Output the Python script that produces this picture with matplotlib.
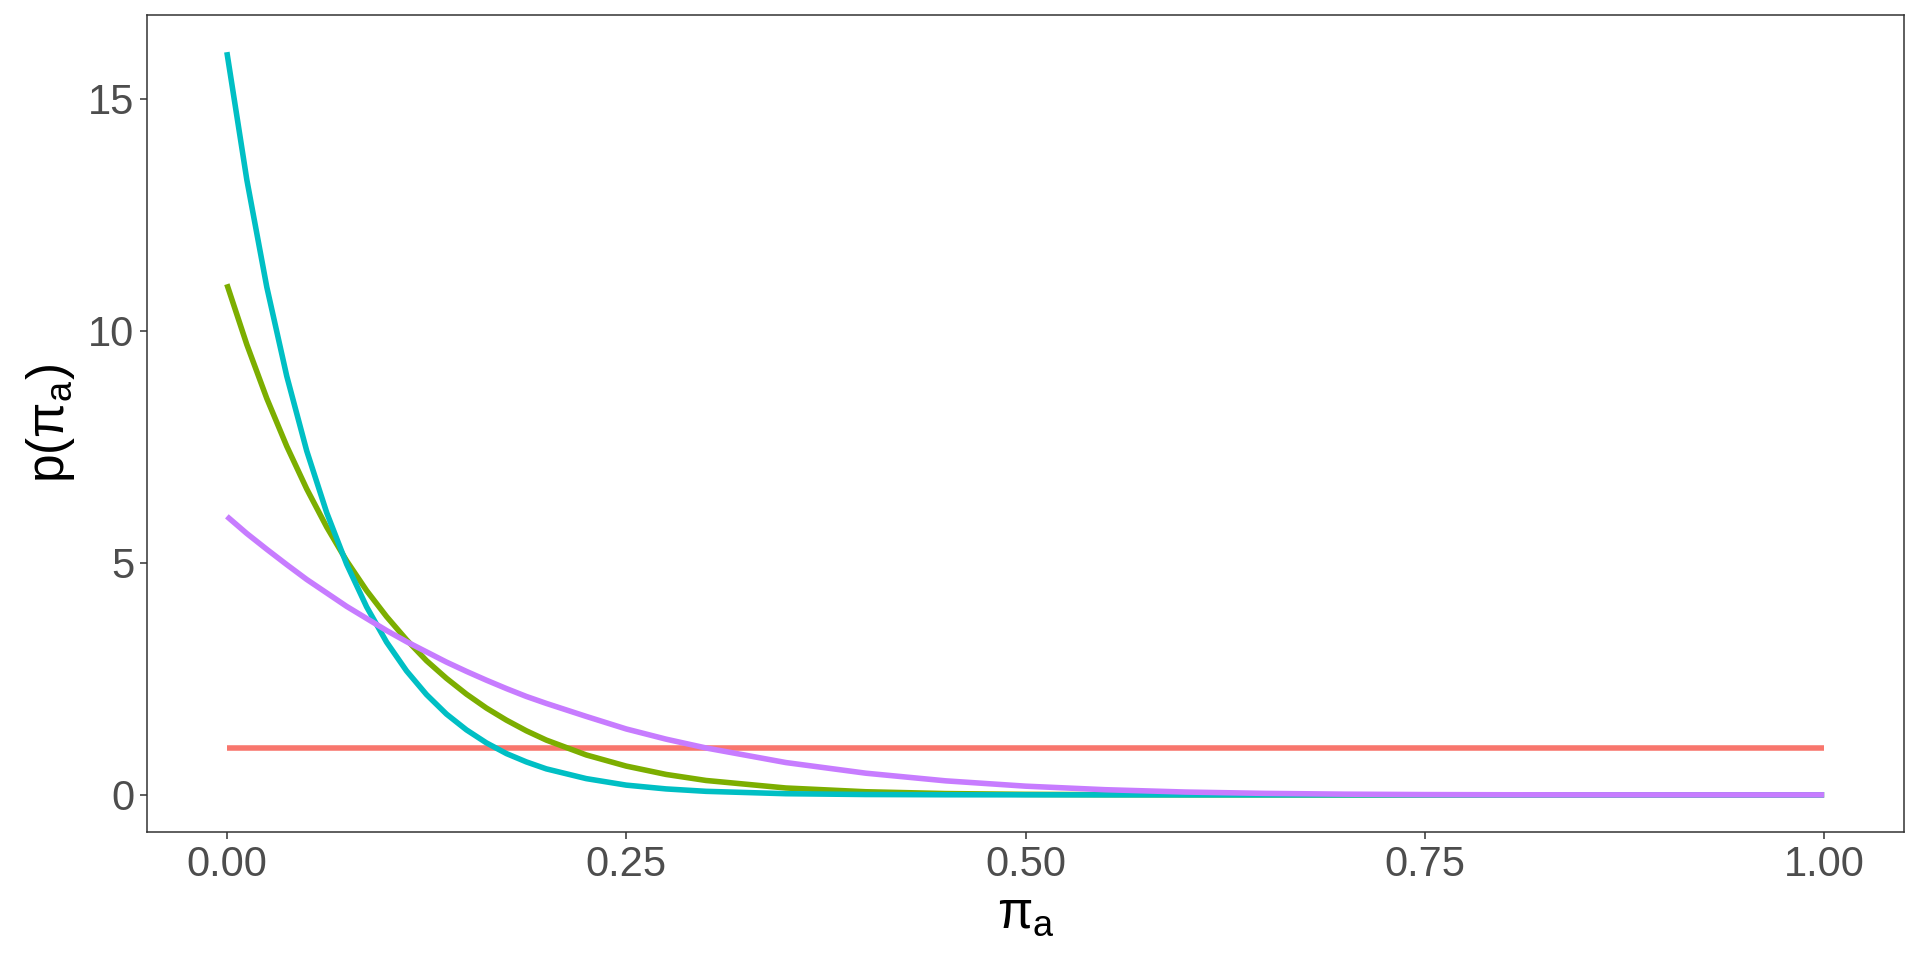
# Beta 先验密度曲线（四条），ggplot 风格
import matplotlib
matplotlib.use("Agg")
from matplotlib import pyplot as plt

plt.rcParams['font.family'] = ['Liberation Sans', 'DejaVu Sans']
plt.rcParams['mathtext.fontset'] = 'custom'
plt.rcParams['mathtext.rm'] = 'Liberation Sans'
plt.rcParams['mathtext.it'] = 'Liberation Sans'

# 横轴取值
x = [0, 0.0125, 0.025, 0.0375, 0.05, 0.0625, 0.075, 0.0875, 0.1, 0.1125,
     0.125, 0.1375, 0.15, 0.1625, 0.175, 0.1875, 0.2, 0.225, 0.25, 0.275,
     0.3, 0.35, 0.4, 0.45, 0.5, 0.55, 0.6, 0.65, 0.7, 0.75, 0.8, 0.85,
     0.9, 0.95, 1.0]
# 红色 平的
y_red = [1] * 35
# 绿色 从 11 开始
y_green = [11, 9.70, 8.54, 7.51, 6.59, 5.77, 5.04, 4.40, 3.84, 3.34,
           2.89, 2.51, 2.17, 1.87, 1.61, 1.38, 1.18, 0.86, 0.62, 0.44,
           0.31, 0.148, 0.067, 0.028, 0.011, 0.004, 0.001, 0.0003, 0, 0, 0, 0,
           0, 0, 0]
# 青色 从 16 开始
y_cyan = [16, 13.25, 10.94, 9.02, 7.41, 6.08, 4.97, 4.05, 3.29, 2.67,
          2.16, 1.74, 1.40, 1.12, 0.89, 0.71, 0.56, 0.35, 0.21, 0.128,
          0.076, 0.025, 0.0075, 0.002, 0.0005, 0, 0, 0, 0, 0, 0, 0,
          0, 0, 0]
# 紫色 从 6 开始
y_purple = [6, 5.63, 5.29, 4.96, 4.64, 4.35, 4.06, 3.80, 3.54, 3.30,
            3.08, 2.86, 2.66, 2.47, 2.29, 2.12, 1.97, 1.69, 1.42, 1.20,
            1.01, 0.696, 0.467, 0.302, 0.1875, 0.111, 0.061, 0.032, 0.015, 0.006, 0.002, 0.0005,
            0.0001, 0, 0]

colors = ["#F8766D", "#7CAE00", "#00BFC4", "#C77CFF"]

fig = plt.figure(figsize=(19.2, 9.6), dpi=100)
ax = fig.add_axes([147 / 1920, 1 - 832 / 960, (1904 - 147) / 1920, (832 - 15) / 960])

for y, c in zip([y_red, y_green, y_cyan, y_purple], colors):
    ax.plot(x, y, color=c, linewidth=4, solid_capstyle='butt', solid_joinstyle='round')

ax.set_xlim(-0.05, 1.05)
ax.set_ylim(-0.8, 16.8)
ax.set_xticks([0, 0.25, 0.5, 0.75, 1.0])
ax.set_xticklabels(["0.00", "0.25", "0.50", "0.75", "1.00"])
ax.set_yticks([0, 5, 10, 15])

for s in ax.spines.values():
    s.set_color("#333333")
    s.set_linewidth(1.1)
ax.tick_params(colors="#333333", labelcolor="#4D4D4D", labelsize=30,
               length=5, width=1.1, pad=4)

ax.set_xlabel(r"$\mathregular{\pi_a}$", fontsize=37, labelpad=4)
ax.set_ylabel(r"p($\mathregular{\pi_a}$)", fontsize=37, labelpad=8)

plt.savefig("out.png", dpi=100)
